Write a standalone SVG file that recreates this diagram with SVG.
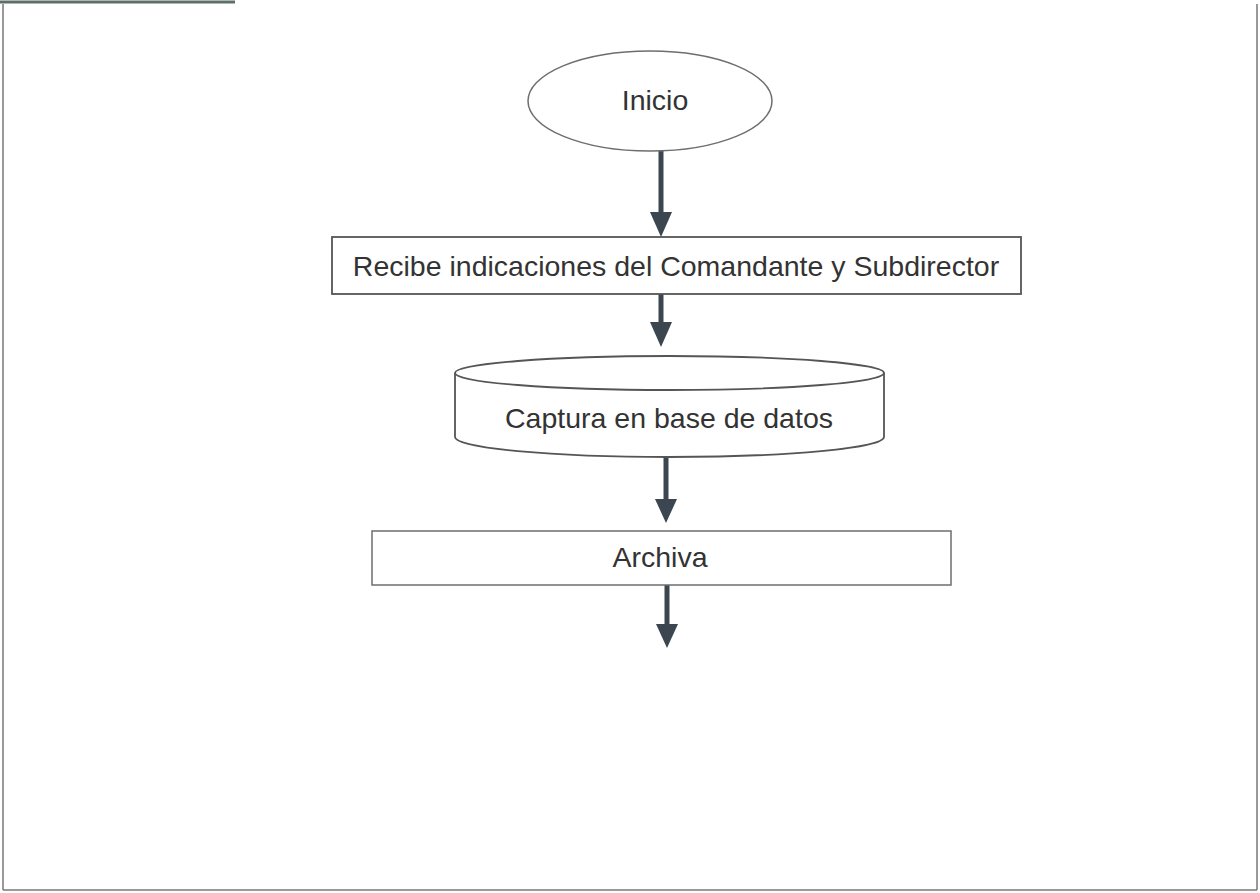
<svg xmlns="http://www.w3.org/2000/svg" width="1260" height="893" viewBox="0 0 1260 893">
<defs>
<style>
.shape{fill:#ffffff;stroke:#6e6e6e;stroke-width:1.5}
.box{fill:#ffffff;stroke:#555555;stroke-width:1.8}
.lbl{font-family:"Liberation Sans",Arial,sans-serif;font-size:28.5px;fill:#333333;text-anchor:middle}
.conn{stroke:#3b4650;stroke-width:5;fill:none}
.head{fill:#3b4650}
</style>
</defs>
<rect x="0" y="0" width="1260" height="893" fill="#ffffff"/>
<g id="frame" fill="none" stroke="#777777" stroke-width="1.5">
<line x1="3" y1="4" x2="3" y2="890"/>
<line x1="3" y1="890" x2="1257" y2="890"/>
<line x1="1257" y1="4" x2="1257" y2="890"/>
<line x1="0" y1="2" x2="235" y2="2" stroke="#5e6f6a" stroke-width="3"/>
</g>
<g id="connectors">
<line class="conn" x1="661" y1="151" x2="661" y2="215"/>
<polygon class="head" points="650,212 672,212 661,237"/>
<line class="conn" x1="661" y1="294" x2="661" y2="325"/>
<polygon class="head" points="650,322 672,322 661,347"/>
<line class="conn" x1="666" y1="457" x2="666" y2="502"/>
<polygon class="head" points="655,499 677,499 666,523"/>
<line class="conn" x1="667" y1="585" x2="667" y2="627"/>
<polygon class="head" points="656,624 678,624 667,648"/>
</g>
<g id="inicio">
<ellipse class="shape" cx="650" cy="101" rx="122" ry="50"/>
<text class="lbl" x="655" y="110">Inicio</text>
</g>
<g id="recibe">
<rect class="box" x="332" y="237" width="689" height="57"/>
<text class="lbl" x="676" y="276">Recibe indicaciones del Comandante y Subdirector</text>
</g>
<g id="captura">
<path class="box" d="M455,373 L455,437 A214.5,20 0 0 0 884,437 L884,373"/>
<ellipse class="box" cx="669.5" cy="373" rx="214.5" ry="17"/>
<text class="lbl" x="669" y="428">Captura en base de datos</text>
</g>
<g id="archiva">
<rect class="shape" x="372" y="531" width="579" height="54"/>
<text class="lbl" x="660" y="567">Archiva</text>
</g>
</svg>
